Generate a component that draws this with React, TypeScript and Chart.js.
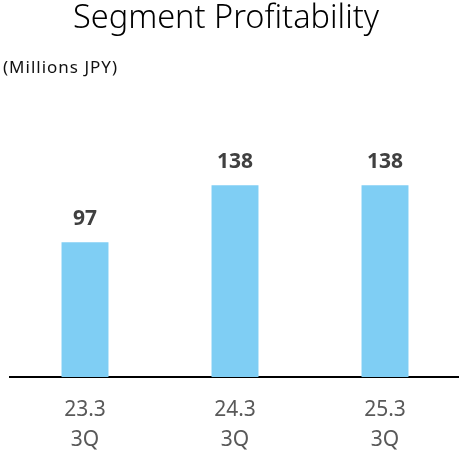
import React, { useEffect, useRef } from "react";
import { Chart, registerables } from "chart.js";

Chart.register(...registerables);

const categories: string[][] = [["23.3", "3Q"], ["24.3", "3Q"], ["25.3", "3Q"]];
const profit: number[] = [97, 138, 138];
const titleText = "Segment Profitability";
const unitText = "(Millions JPY)";

const FONT = "'Noto Sans', 'Open Sans', sans-serif";

const textPlugin = {
  id: "customText",
  afterDraw(chart: any) {
    const ctx = chart.ctx;
    ctx.save();
    // title
    ctx.fillStyle = "#000000";
    ctx.font = `300 32.5px ${FONT}`;
    ctx.textAlign = "center";
    ctx.textBaseline = "alphabetic";
    ctx.fillText(titleText, 226, 28);
    // unit
    ctx.font = `400 17px ${FONT}`;
    ctx.fillStyle = "#111111";
    ctx.textAlign = "left";
    (ctx as any).letterSpacing = "1px";
    ctx.fillText(unitText, 3, 73);
    (ctx as any).letterSpacing = "0px";
    // value labels
    const meta = chart.getDatasetMeta(0);
    ctx.font = `bold 21px ${FONT}`;
    ctx.fillStyle = "#404040";
    ctx.textAlign = "center";
    ctx.textBaseline = "alphabetic";
    meta.data.forEach((bar: any, i: number) => {
      ctx.fillText(String(profit[i]), bar.x, bar.y - 17);
    });
    ctx.restore();
  },
};

export default function App() {
  const ref = useRef<HTMLCanvasElement | null>(null);
  useEffect(() => {
    document.body.style.margin = "0";
    const chart = new Chart(ref.current!, {
      type: "bar",
      data: {
        labels: categories,
        datasets: [
          {
            data: profit,
            backgroundColor: "#7FCEF4",
            borderWidth: 0,
            barPercentage: 0.313,
            categoryPercentage: 1,
          },
        ],
      },
      options: {
        responsive: false,
        animation: false,
        layout: { padding: { left: 10, right: 1, top: 99, bottom: 0 } },
        plugins: { legend: { display: false }, tooltip: { enabled: false }, title: { display: false } },
        scales: {
          x: {
            grid: { display: false, drawTicks: false },
            border: { display: true, color: "#000000", width: 2 },
            ticks: {
              color: "#595959",
              padding: 18,
              font: { family: FONT, size: 21, lineHeight: "30px" },
            },
          },
          y: { display: false, min: 0, max: 200 },
        },
      },
      plugins: [textPlugin],
    });
    return () => chart.destroy();
  }, []);
  return (
    <div style={{ width: 459, height: 451, overflow: "hidden", position: "relative" }}>
      <canvas ref={ref} width={461} height={473} style={{ display: "block" }} />
    </div>
  );
}
